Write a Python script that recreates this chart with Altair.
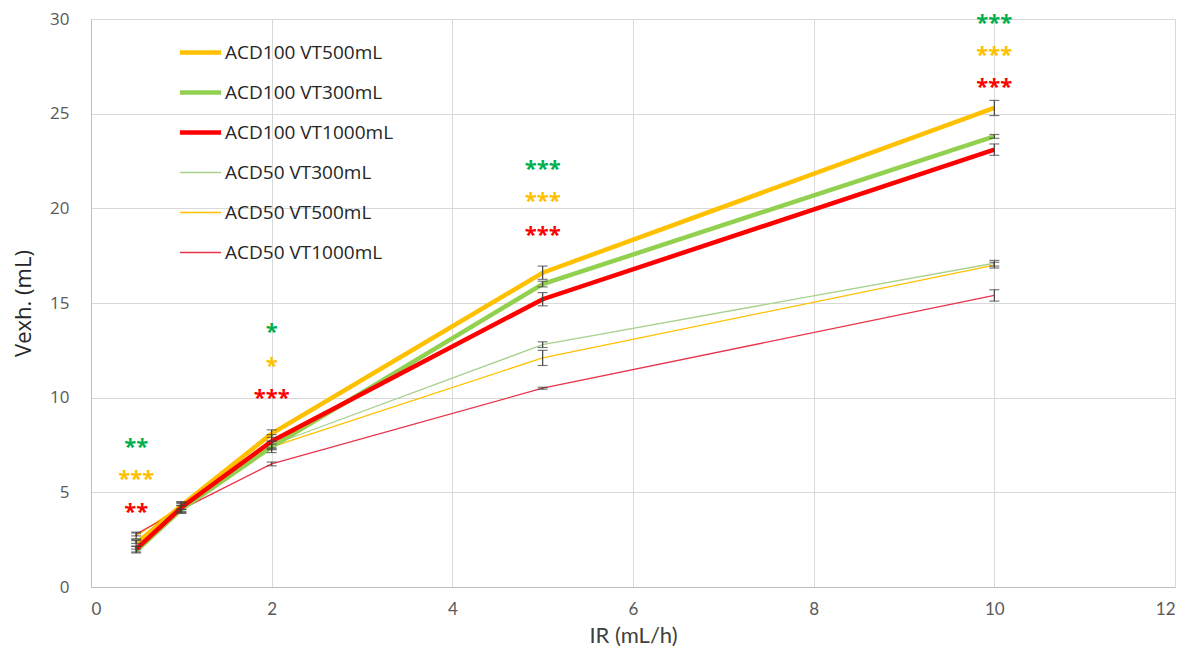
import altair as alt
import pandas as pd

# ---- data ----
ir = [0.5, 1, 2, 5, 10]
series_names = ["ACD100 VT500mL", "ACD100 VT300mL", "ACD100 VT1000mL",
                "ACD50 VT300mL", "ACD50 VT500mL", "ACD50 VT1000mL"]
acd100_vt500 = [2.3, 4.3, 8.1, 16.6, 25.3]
acd100_vt300 = [1.9, 4.1, 7.4, 16.0, 23.8]
acd100_vt1000 = [2.0, 4.2, 7.7, 15.2, 23.1]
acd50_vt300 = [2.4, 4.2, 7.5, 12.8, 17.1]
acd50_vt500 = [2.7, 4.3, 7.4, 12.1, 17.0]
acd50_vt1000 = [2.8, 4.1, 6.5, 10.5, 15.4]
err100_vt500 = [0.15, 0.2, 0.2, 0.35, 0.4]
err100_vt300 = [0.1, 0.2, 0.15, 0.15, 0.1]
err100_vt1000 = [0.15, 0.25, 0.35, 0.35, 0.3]
err50_vt300 = [0.1, 0.2, 0.2, 0.15, 0.15]
err50_vt500 = [0.15, 0.2, 0.3, 0.4, 0.15]
err50_vt1000 = [0.1, 0.2, 0.1, 0.05, 0.3]

series_values = [acd100_vt500, acd100_vt300, acd100_vt1000, acd50_vt300, acd50_vt500, acd50_vt1000]
series_errors = [err100_vt500, err100_vt300, err100_vt1000, err50_vt300, err50_vt500, err50_vt1000]
series_colors = ["#FFC000", "#92D050", "#FF0000", "#A9D18E", "#FFC000", "#E8344A"]
series_widths = [4.5, 4.5, 4.5, 1.3, 1.3, 1.3]
series_thick = [True, True, True, False, False, False]

# significance marks
star_x = [0.5, 0.5, 0.5, 2, 2, 2, 5, 5, 5, 10, 10, 10]
star_y = [7.7, 6.0, 4.3, 13.8, 12.0, 10.3, 22.4, 20.7, 18.9, 30.1, 28.4, 26.7]
star_text = ["**", "***", "**", "*", "*", "***", "***", "***", "***", "***", "***", "***"]
star_group = ["g", "o", "r"] * 4
star_group_colors = {"g": "#00B050", "o": "#FFC000", "r": "#FF0000"}

rows = []
for name, vals, errs, thick, sw in zip(series_names, series_values, series_errors,
                                       series_thick, series_widths):
    for xv, yv, ev in zip(ir, vals, errs):
        rows.append({"series": name, "ir": xv, "v": yv, "lo": yv - ev, "hi": yv + ev,
                     "thick": thick, "sw": sw})
df = pd.DataFrame(rows)
stars = pd.DataFrame({"ir": star_x, "v": star_y, "t": star_text,
                      "c": [star_group_colors[g] for g in star_group]})

FONT = "Open Sans"
xscale = alt.Scale(domain=[0, 12], nice=False)
yscale = alt.Scale(domain=[0, 30], nice=False)

thin_names = [n for n, t in zip(series_names, series_thick) if not t]
thin_expr = "indexof(" + str(thin_names) + ", datum.value) >= 0 ? 1.3 : 4.5"

legend = alt.Legend(title=None, orient="none", legendX=100, legendY=24,
                    symbolType="stroke", symbolSize=1700, labelLimit=0,
                    labelFontSize=19, labelFont=FONT, labelColor="#262626",
                    rowPadding=20, labelOffset=15,
                    symbolStrokeWidth=alt.ExprRef(expr=thin_expr))
color = alt.Color("series:N", scale=alt.Scale(domain=series_names, range=series_colors),
                  legend=legend, sort=series_names)
width = alt.StrokeWidth("sw:Q", scale=None)

xaxis = alt.Axis(title="IR (mL/h)", values=[0, 2, 4, 6, 8, 10, 12],
                 grid=True, gridColor="#D9D9D9", ticks=False, labelOverlap=False,
                 domainColor="#BFBFBF", labelFontSize=17, labelColor="#595959",
                 labelFont="Lato", labelPadding=14, titleFont="Lato",
                 titleFontSize=22, titleFontWeight="normal", titleColor="#404040",
                 titlePadding=8)
yaxis = alt.Axis(title="Vexh. (mL)", values=[0, 5, 10, 15, 20, 25, 30],
                 grid=True, gridColor="#D9D9D9", ticks=False, labelOverlap=False,
                 domainColor="#BFBFBF", labelFontSize=17, labelColor="#595959",
                 labelFont=FONT, labelPadding=22, titleFont=FONT,
                 titleFontSize=22, titleFontWeight="normal", titleColor="#262626",
                 titlePadding=14)
xenc = alt.X("ir:Q", scale=xscale, axis=xaxis)


def yf(field):
    return alt.Y(field + ":Q", scale=yscale, axis=yaxis)


base = alt.Chart(df)

thin_lines = base.transform_filter("!datum.thick").mark_line().encode(
    x=xenc, y=yf("v"), color=color, strokeWidth=width)
thick_lines = base.transform_filter("datum.thick").mark_line().encode(
    x=xenc, y=yf("v"), color=color, strokeWidth=width)

err_rule = base.mark_rule(color="#404040", strokeWidth=1.2).encode(
    x=xenc, y=yf("lo"), y2="hi:Q")
err_lo = base.mark_tick(color="#404040", thickness=1.2, size=10, orient="horizontal").encode(
    x=xenc, y=yf("lo"))
err_hi = base.mark_tick(color="#404040", thickness=1.2, size=10, orient="horizontal").encode(
    x=xenc, y=yf("hi"))

star_marks = alt.Chart(stars).mark_text(fontSize=22, font=FONT, fontWeight="bold",
                                        baseline="middle", dy=6).encode(
    x=xenc, y=yf("v"), text="t:N", color=alt.Color("c:N", scale=None))

chart = alt.layer(thin_lines, thick_lines, err_rule, err_lo, err_hi, star_marks).properties(
    width=1084, height=568,
    autosize=alt.AutoSizeParams(type="none"),
    padding={"left": 91, "top": 19, "right": 24, "bottom": 79},
    background="white",
).configure_view(stroke=None)

chart.save("out.html", embed_options={"renderer": "svg", "actions": False})
